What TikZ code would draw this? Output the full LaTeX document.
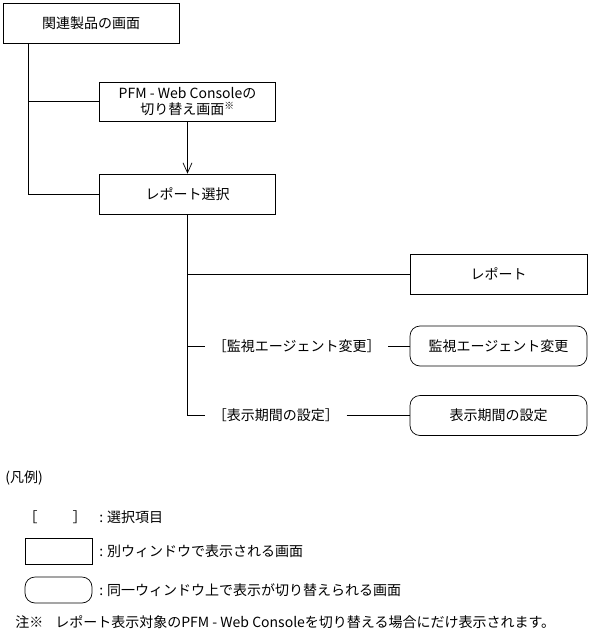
\documentclass[tikz,border=0pt]{standalone}
\usepackage{fontspec}
\setmainfont{Noto Sans CJK JP}
\usetikzlibrary{positioning,arrows.meta}

\begin{document}
\begin{tikzpicture}[x=1pt,y=-1pt,line width=0.7pt,
font=\fontsize{14pt}{16pt}\selectfont,
box/.style={draw,rectangle,minimum width=176pt,minimum height=40pt,align=center,inner sep=0pt},
rbox/.style={box,rounded corners=10pt},
sel/.style={inner xsep=7.5pt,inner ysep=0pt,anchor=west},
txt/.style={anchor=west,inner sep=0pt}]
\useasboundingbox (0,0) rectangle (591,637);
\node (prod) [box] at (91,23) {関連製品の画面};
\node (switch) [box,minimum height=39pt] at (187.5,101.5) {PFM - Web Consoleの\\切り替え画面\textsuperscript{※}};
\node (repsel) [box] at (187.5,194) {レポート選択};
\node (rep) [box,minimum width=177pt] at (498.5,274) {レポート};
\node (agent) [rbox,minimum width=177pt] at (498.5,346) {監視エージェント変更};
\node (period) [rbox,minimum width=177pt] at (498.5,415.5) {表示期間の設定};
\node (agentsel) [sel] at (205,346) {［監視エージェント変更］};
\node (periodsel) [sel] at (205,415.5) {［表示期間の設定］};
\coordinate (trunk) at ([xshift=26pt]prod.south west);
\draw (trunk) |- (repsel.west);
\draw (trunk |- switch.west) -- (switch.west);
\draw[-{Straight Barb[length=10pt,width=9pt]}] (switch) -- (repsel);
\draw (repsel.south) |- (periodsel.west);
\draw (repsel.south |- rep.west) -- (rep.west);
\draw (repsel.south |- agentsel.west) -- (agentsel.west);
\draw (agentsel) -- (agent);
\draw (periodsel) -- (period);
\node (legend) [txt] at (5,478) {(凡例)};
\node (legbr) at (55,517) {［\hspace{2.5em}］};
\node (legbrtext) [txt] at (99,517) {:\hspace{4pt}選択項目};
\node (legbox) [box,minimum width=67pt,minimum height=26pt] at (58.5,551) {};
\node (legboxtext) [txt] at (99,551) {:\hspace{4pt}別ウィンドウで表示される画面};
\node (legrnd) [rbox,minimum width=67pt,minimum height=26pt] at (58.5,590) {};
\node (legrndtext) [txt] at (99,590) {:\hspace{4pt}同一ウィンドウ上で表示が切り替えられる画面};
\node (note) [txt] at (15,622) {注※\hspace{12pt}レポート表示対象のPFM - Web Consoleを切り替える場合にだけ表示されます。};
\end{tikzpicture}
\end{document}
